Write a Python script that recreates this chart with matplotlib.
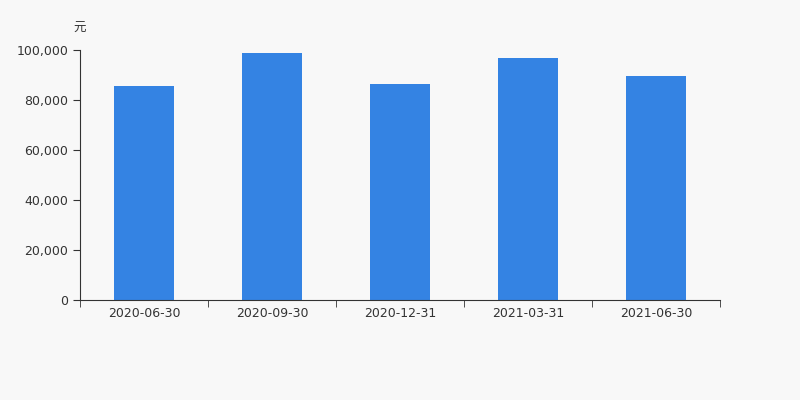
import matplotlib.pyplot as plt
import numpy as np
from matplotlib.ticker import FuncFormatter, FixedLocator

# Данные
dates = ['2020-06-30', '2020-09-30', '2020-12-31', '2021-03-31', '2021-06-30']
values = [85600, 98900, 86500, 96700, 89500]

bg = '#f8f8f8'
bar_color = '#3483e3'
text_color = '#333333'

fig = plt.figure(figsize=(8, 4), dpi=100, facecolor=bg)
ax = fig.add_axes([0.1, 0.25, 0.8, 0.625], facecolor=bg)

x = np.arange(len(dates))
ax.bar(x, values, width=0.47, color=bar_color, zorder=2)

ax.set_xlim(-0.5, len(dates) - 0.5)
ax.set_ylim(0, 100000)

# Оси
for side in ['top', 'right']:
    ax.spines[side].set_visible(False)
ax.spines['left'].set_color(text_color)
ax.spines['bottom'].set_color(text_color)

ax.set_yticks([0, 20000, 40000, 60000, 80000, 100000])
ax.yaxis.set_major_formatter(FuncFormatter(lambda v, p: f'{int(v):,}'))

# подписи по центру, риски на границах
ax.set_xticks(x)
ax.set_xticklabels(dates)
ax.tick_params(axis='x', which='major', length=0, pad=5)
ax.xaxis.set_minor_locator(FixedLocator(np.arange(-0.5, len(dates), 1.0)))
ax.tick_params(axis='x', which='minor', length=5, color=text_color)
ax.tick_params(axis='y', length=5, color=text_color)
ax.tick_params(labelsize=9, labelcolor=text_color)

fig.text(0.1, 0.928, '元', ha='center', va='center', fontsize=9, color=text_color,
         family=['Noto Sans CJK SC', 'DejaVu Sans'])

fig.savefig('out.png', dpi=100, facecolor=bg)
